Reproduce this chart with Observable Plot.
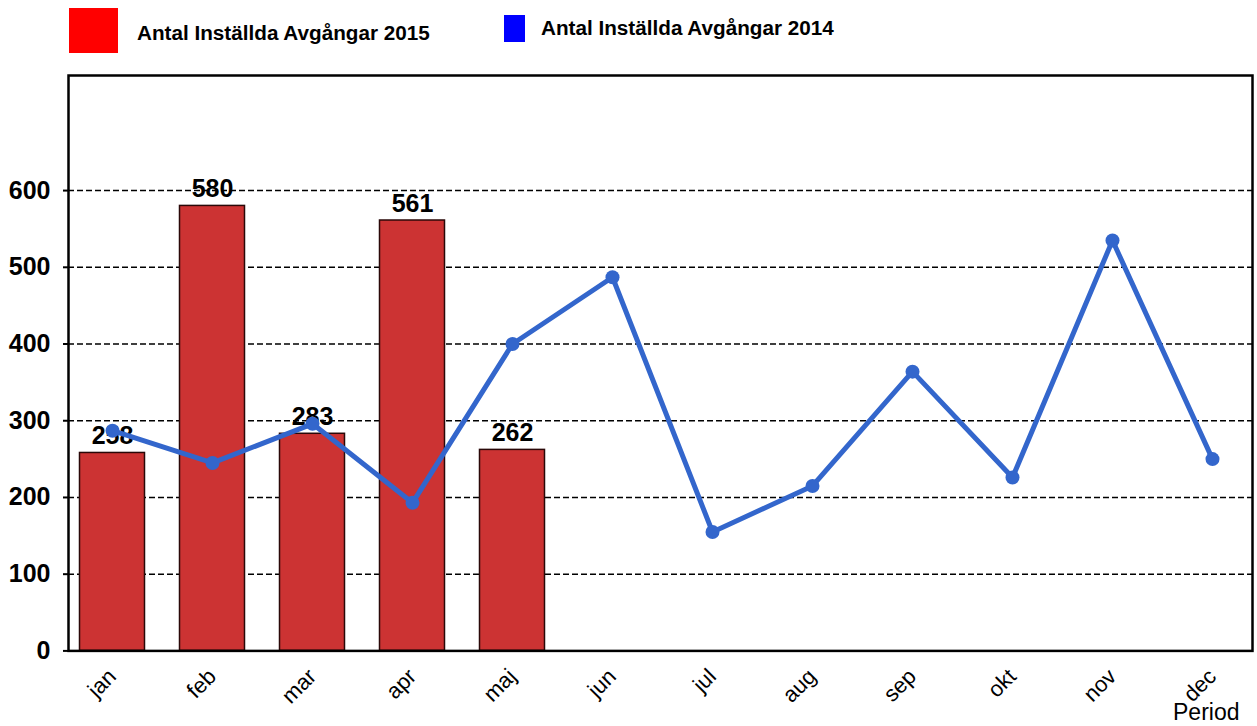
<!DOCTYPE html>
<html>
<head>
<meta charset="utf-8">
<script src="https://cdn.jsdelivr.net/npm/d3@7"></script>
<script src="https://cdn.jsdelivr.net/npm/@observablehq/plot@0.6"></script>
<style>
  html, body { margin: 0; padding: 0; background: #fff; overflow: hidden; }
  body { font-family: "Liberation Sans", Arial, sans-serif; width: 1257px; height: 726px; }
  #legend { position: relative; height: 60px; width: 1257px; }
  #legend .sw { position: absolute; }
  #legend .lbl { position: absolute; font-weight: bold; font-size: 20.7px; color: #000; white-space: nowrap; line-height: 1; }
  #chart svg { display: block; }
</style>
</head>
<body>
<div id="legend">
  <div class="sw" style="left:69px;top:8px;width:49px;height:45px;background:#ff0000"></div>
  <div class="lbl" id="l2015" style="left:137px;top:23px;"></div>
  <div class="sw" style="left:504px;top:15px;width:21px;height:27px;background:#0000ff"></div>
  <div class="lbl" id="l2014" style="left:541px;top:18px;"></div>
</div>
<div id="chart"></div>
<script>
const months = ["jan","feb","mar","apr","maj","jun","jul","aug","sep","okt","nov","dec"];
const months2015 = ["jan","feb","mar","apr","maj"];
const values2015 = [258, 580, 283, 561, 262];
const values2014 = [287, 245, 296, 193, 400, 487, 155, 215, 364, 226, 535, 250];
const yTicks = [0, 100, 200, 300, 400, 500, 600];
const gridTicks = [100, 200, 300, 400, 500, 600];
const seriesNames = ["Antal Inställda Avgångar 2015", "Antal Inställda Avgångar 2014"];
const xTitle = "Period";

document.getElementById("l2015").textContent = seriesNames[0];
document.getElementById("l2014").textContent = seriesNames[1];

const bars = months2015.map((m, i) => ({month: m, value: values2015[i]}));
const line = months.map((m, i) => ({month: m, value: values2014[i]}));

const chart = Plot.plot({
  width: 1257,
  height: 666,
  marginLeft: 68,
  marginRight: 5,
  marginTop: 15,
  marginBottom: 75.6,
  style: {fontFamily: '"Liberation Sans", Arial, sans-serif', color: "#000", background: "#fff"},
  x: {type: "band", domain: months, range: [61.7, 1261.7], padding: 0},
  y: {domain: [0, 750]},
  marks: [
    Plot.ruleY(gridTicks, {stroke: "#000", strokeWidth: 1.5, strokeDasharray: "6,3"}),
    Plot.barY(bars, {x: "month", y: "value", fill: "#cc3333", stroke: "#2a0808", strokeWidth: 1.5, insetLeft: 17.5, insetRight: 17.5}),
    Plot.text(bars, {x: "month", y: "value", text: d => String(d.value), fontSize: 25, fontWeight: "bold", fill: "#000", lineAnchor: "bottom", dy: -9}),
    Plot.line(line, {x: "month", y: "value", stroke: "#3366cc", strokeWidth: 5}),
    Plot.dot(line, {x: "month", y: "value", r: 7, fill: "#3366cc", stroke: "none"}),
    Plot.axisY({ticks: yTicks, tickSize: 5, tickPadding: 13, fontSize: 25, fontWeight: "bold", label: null, strokeWidth: 2}),
    Plot.axisX({tickSize: 0, tickPadding: 22, tickRotate: -45, fontSize: 22, label: null}),
    Plot.text([xTitle], {frameAnchor: "bottom-right", text: d => d, textAnchor: "end", lineAnchor: "bottom", dx: -13, dy: 69, fontSize: 23, fill: "#000"}),
    Plot.frame({stroke: "#000", strokeWidth: 2.5})
  ]
});
document.getElementById("chart").appendChild(chart);
</script>
</body>
</html>
